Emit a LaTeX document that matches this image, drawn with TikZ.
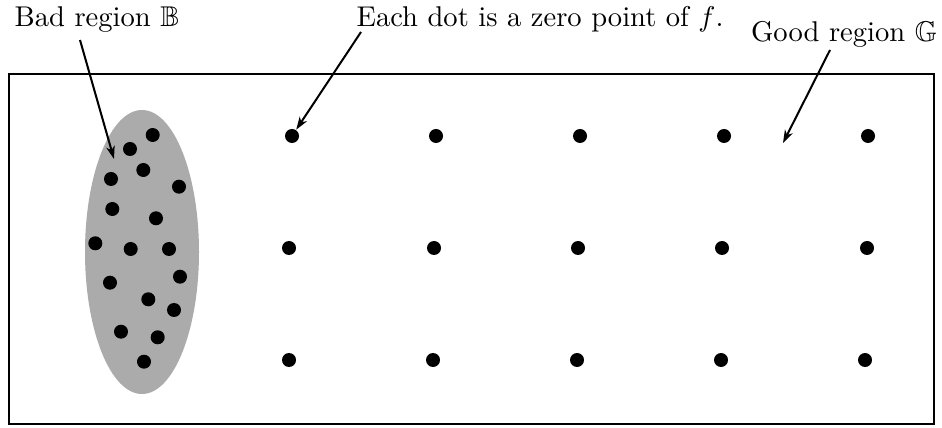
\documentclass[tikz,border=0pt]{standalone}
\usepackage{amssymb}
\usetikzlibrary{arrows.meta}
\begin{document}
\begin{tikzpicture}[x=0.35pt,y=-0.35pt,
  dot/.style={circle,fill=black,inner sep=0pt,minimum size=4.9pt},
  lbl/.style={inner sep=0pt,font=\normalsize},
  arr/.style={-{Stealth[length=4.5pt,width=3pt,inset=1.3pt]},line width=0.7pt}]
\useasboundingbox (0,0) rectangle (942,428);
\draw[line width=0.7pt] (9,74) rectangle (934,424);
\fill[black!33] (142,252) ellipse [x radius=57, y radius=142];
% dots in bad region
\foreach \x/\y [count=\i] in {152.7/135,130/149,143.3/170,111/179,179/186.7,112.3/209,156/218.3,95.3/243.3,130.7/249,169/249,180/276.7,110/282.7,148.3/299.3,174/310,121/331.7,157.7/337.3,144/361.7}
  \node[dot] (b\i) at (\x,\y) {};
% grid dots
\foreach \x [count=\i] in {292,436,580,724,868} \node[dot] (r1c\i) at (\x,136) {};
\foreach \x [count=\i] in {289,434,578,722,867} \node[dot] (r2c\i) at (\x,248) {};
\foreach \x [count=\i] in {289,433,577,721,865} \node[dot] (r3c\i) at (\x,360) {};
% labels
\node[lbl] (bad) at (97,19.5) {Bad region $\mathbb{B}$};
\node[lbl] (each) at (540,19.5) {Each dot is a zero point of $f$.};
\node[lbl] (good) at (844,34) {Good region $\mathbb{G}$};
% arrows
\coordinate (bs) at (80,40);
\coordinate (be) at (114,159);
\coordinate (es) at (361,32);
\coordinate (gs) at (830,50);
\coordinate (ge) at (783,143);
\draw[arr] (bs) -- (be);
\draw[arr] (es) -- (r1c1);
\draw[arr] (gs) -- (ge);
\end{tikzpicture}
\end{document}
